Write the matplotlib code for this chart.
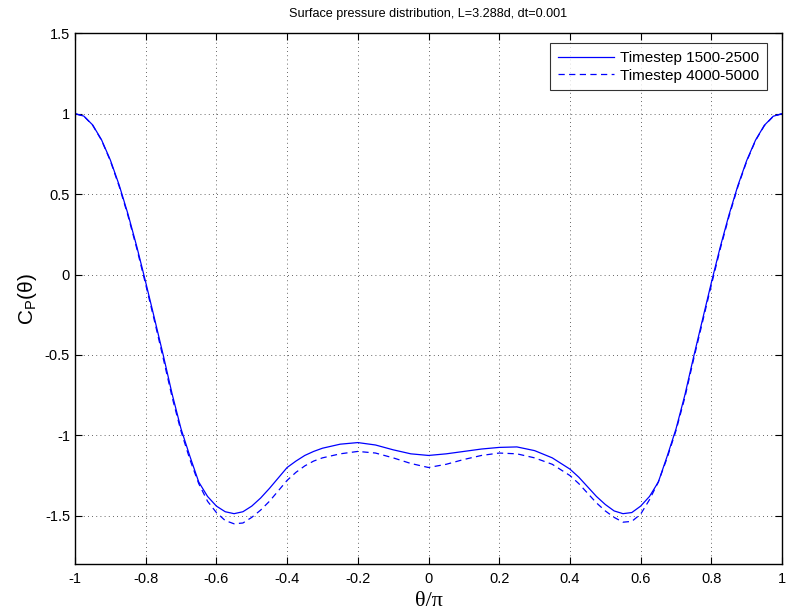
import matplotlib

matplotlib.use("Agg")
import matplotlib.pyplot as plt

plt.rcParams["font.family"] = ["Liberation Sans", "DejaVu Sans"]

THETA = [
    -1.0, -0.975, -0.95, -0.925, -0.9, -0.875, -0.85, -0.825, -0.8, -0.775,
    -0.75, -0.725, -0.7, -0.675, -0.65, -0.625, -0.6, -0.575, -0.55, -0.525,
    -0.5, -0.475, -0.45, -0.425, -0.4, -0.375, -0.35, -0.325, -0.3, -0.25,
    -0.2, -0.15, -0.1, -0.05, 0.0, 0.05, 0.1, 0.15, 0.2, 0.25,
    0.3, 0.35, 0.4, 0.425, 0.45, 0.475, 0.5, 0.525, 0.55, 0.575,
    0.6, 0.625, 0.65, 0.675, 0.7, 0.725, 0.75, 0.775, 0.8, 0.825,
    0.85, 0.875, 0.9, 0.925, 0.95, 0.975, 1.0,
]

CP_1500 = [
    1.0, 0.985, 0.93, 0.838, 0.712, 0.556, 0.375, 0.172, -0.048, -0.275,
    -0.505, -0.745, -0.96, -1.13, -1.29, -1.38, -1.44, -1.475, -1.487, -1.475,
    -1.44, -1.39, -1.33, -1.265, -1.2, -1.16, -1.125, -1.1, -1.08, -1.055,
    -1.045, -1.06, -1.09, -1.115, -1.125, -1.115, -1.1, -1.085, -1.075, -1.072,
    -1.095, -1.14, -1.21, -1.26, -1.32, -1.38, -1.43, -1.47, -1.487, -1.48,
    -1.44, -1.38, -1.29, -1.13, -0.96, -0.75, -0.51, -0.28, -0.05, 0.17,
    0.372, 0.553, 0.709, 0.836, 0.928, 0.984, 1.0,
]

CP_4000 = [
    1.0, 0.985, 0.928, 0.835, 0.707, 0.548, 0.365, 0.16, -0.062, -0.29,
    -0.525, -0.765, -0.975, -1.15, -1.3, -1.41, -1.48, -1.53, -1.55, -1.545,
    -1.51, -1.465, -1.41, -1.345, -1.28, -1.23, -1.19, -1.16, -1.14, -1.115,
    -1.1, -1.11, -1.14, -1.175, -1.2, -1.18, -1.15, -1.125, -1.11, -1.115,
    -1.14, -1.18, -1.25, -1.3, -1.36, -1.42, -1.47, -1.51, -1.54, -1.535,
    -1.49, -1.4, -1.29, -1.14, -0.97, -0.765, -0.525, -0.295, -0.065, 0.158,
    0.362, 0.546, 0.704, 0.833, 0.926, 0.983, 1.0,
]

fig = plt.figure(figsize=(7.86, 6.16), dpi=100)
ax = fig.add_axes([0.0954, 0.0844, 0.8996, 0.8616])

ax.plot(THETA, CP_1500, color="#0000ff", linewidth=0.9, label="Timestep 1500-2500")
ax.plot(THETA, CP_4000, color="#0000ff", linewidth=0.9, linestyle=(0, (5, 3.5)),
        label="Timestep 4000-5000")

ax.set_xlim(-1, 1)
ax.set_ylim(-1.8, 1.5)
ax.set_xticks([-1, -0.8, -0.6, -0.4, -0.2, 0, 0.2, 0.4, 0.6, 0.8, 1])
ax.set_xticklabels(["-1", "-0.8", "-0.6", "-0.4", "-0.2", "0", "0.2", "0.4", "0.6", "0.8", "1"])
ax.set_yticks([-1.5, -1, -0.5, 0, 0.5, 1, 1.5])
ax.set_yticklabels(["-1.5", "-1", "-0.5", "0", "0.5", "1", "1.5"])
ax.tick_params(direction="in", top=True, right=True, length=5, width=0.8, labelsize=10.5)
ax.tick_params(axis="x", pad=6)
ax.grid(True, linestyle=(0, (1, 4)), color="black", linewidth=0.6, alpha=0.8)
for s in ax.spines.values():
    s.set_linewidth(1.0)

ax.set_title("Surface pressure distribution, L=3.288d, dt=0.001", fontsize=9.1, pad=12)
ax.set_xlabel("θ/π", fontsize=16, family=["Liberation Serif", "DejaVu Serif"], labelpad=4)
ax.set_ylabel(r"C$_\mathregular{P}$(θ)", fontsize=15, labelpad=4)

leg = ax.legend(loc="upper right", bbox_to_anchor=(0.979, 0.981), borderaxespad=0,
                fontsize=11, frameon=True, fancybox=False, edgecolor="black",
                borderpad=0.5, handlelength=3.7, handletextpad=0.4, labelspacing=0.25)
leg.get_frame().set_linewidth(0.8)

fig.savefig("out.png", dpi=100)
